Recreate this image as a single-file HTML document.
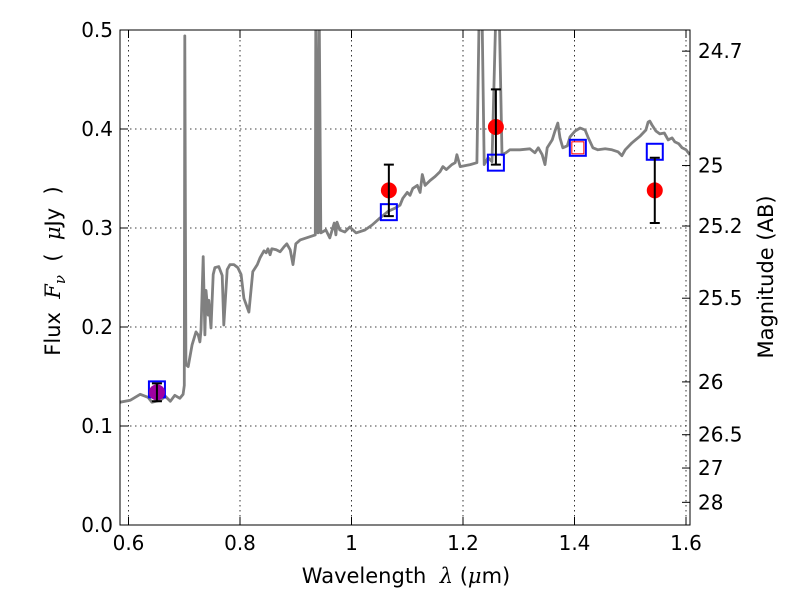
<!DOCTYPE html>
<html><head><meta charset="utf-8"><style>
body{margin:0;background:#fff;}
svg text{font-family:"DejaVu Sans","Liberation Sans",sans-serif;}
</style></head><body>
<svg id="chart" width="800" height="600" xmlns="http://www.w3.org/2000/svg">
<defs><clipPath id="clip"><rect x="120" y="30" width="570" height="495"/></clipPath></defs>
<rect x="0" y="0" width="800" height="600" fill="#fff"/>
<g id="grid"></g>
<g id="marks" clip-path="url(#clip)"></g>
<rect x="120" y="30" width="570" height="495" fill="none" stroke="#000" stroke-width="1"/>
<g id="axes"></g>
<text x="406" y="583" font-size="21" text-anchor="middle" xml:space="preserve">Wavelength  <tspan font-family="DejaVu Serif" font-style="italic">λ</tspan> (<tspan font-family="DejaVu Serif" font-style="italic">μ</tspan>m)</text>
<text transform="translate(60,271) rotate(-90)" font-size="21" text-anchor="middle" xml:space="preserve">Flux  <tspan font-family="DejaVu Serif" font-style="italic">F</tspan><tspan font-family="DejaVu Serif" font-style="italic" font-size="15" dy="5">ν</tspan><tspan dy="-5">  (  </tspan><tspan font-family="DejaVu Serif" font-style="italic">μ</tspan>Jy  )</text>
<text transform="translate(773,277) rotate(-90)" font-size="21" text-anchor="middle">Magnitude (AB)</text>
</svg>
<script>
const specWave=[0.585,0.603,0.621,0.635,0.642,0.657,0.666,0.675,0.683,0.692,0.698,0.700,0.701,0.703,0.707,0.714,0.721,0.725,0.728,0.730,0.734,0.737,0.739,0.743,0.744,0.748,0.752,0.755,0.762,0.768,0.771,0.777,0.782,0.789,0.796,0.802,0.807,0.816,0.823,0.831,0.836,0.843,0.847,0.850,0.854,0.857,0.865,0.872,0.879,0.884,0.890,0.895,0.900,0.908,0.935,0.936,0.940,0.942,0.945,0.954,0.961,0.969,0.972,0.974,0.979,0.988,0.997,1.008,1.024,1.037,1.051,1.066,1.078,1.087,1.092,1.100,1.105,1.110,1.118,1.123,1.127,1.132,1.141,1.150,1.159,1.164,1.170,1.180,1.186,1.189,1.195,1.213,1.225,1.229,1.234,1.238,1.245,1.252,1.259,1.265,1.270,1.277,1.284,1.302,1.320,1.329,1.335,1.342,1.347,1.351,1.360,1.365,1.370,1.374,1.379,1.387,1.392,1.401,1.410,1.419,1.424,1.433,1.442,1.455,1.467,1.478,1.485,1.491,1.503,1.518,1.528,1.532,1.535,1.539,1.546,1.553,1.561,1.568,1.575,1.580,1.587,1.593,1.600,1.607];
const specFlux=[0.124,0.126,0.132,0.129,0.124,0.126,0.130,0.125,0.131,0.128,0.132,0.141,0.494,0.162,0.160,0.182,0.195,0.192,0.185,0.197,0.271,0.192,0.237,0.212,0.227,0.199,0.253,0.260,0.261,0.252,0.202,0.258,0.263,0.263,0.260,0.253,0.229,0.215,0.256,0.263,0.270,0.277,0.275,0.279,0.273,0.279,0.278,0.276,0.281,0.284,0.278,0.263,0.284,0.288,0.293,0.52,0.295,0.52,0.295,0.298,0.290,0.305,0.293,0.306,0.298,0.296,0.301,0.295,0.298,0.303,0.310,0.317,0.320,0.323,0.330,0.336,0.333,0.340,0.343,0.336,0.354,0.343,0.348,0.352,0.357,0.362,0.359,0.364,0.366,0.374,0.362,0.364,0.366,0.52,0.52,0.364,0.371,0.367,0.52,0.52,0.374,0.376,0.379,0.379,0.380,0.376,0.381,0.374,0.364,0.381,0.389,0.398,0.406,0.391,0.381,0.383,0.392,0.398,0.401,0.399,0.392,0.381,0.379,0.380,0.379,0.377,0.373,0.379,0.386,0.393,0.399,0.407,0.408,0.404,0.398,0.395,0.396,0.389,0.391,0.387,0.385,0.381,0.379,0.374];
const photWave=[0.651,1.067,1.259,1.406,1.544];
const photFlux=[0.134,0.338,0.402,0.381,0.338];
const photErr=[0.009,0.026,0.038,0,0.033];
const modelFlux=[0.137,0.316,0.366,0.381,0.377];
const xTicks=[0.6,0.8,1.0,1.2,1.4,1.6];
const xTickLabels=["0.6","0.8","1","1.2","1.4","1.6"];
const yTicks=[0,0.1,0.2,0.3,0.4,0.5];
const yTickLabels=["0.0","0.1","0.2","0.3","0.4","0.5"];
const magTicks=[24.7,25,25.2,25.5,26,26.5,27,28];
const magTickLabels=["24.7","25","25.2","25.5","26","26.5","27","28"];

const X=v=>128.5+(v-0.6)*557.5;
const Y=v=>525-v*990;
const magToFlux=m=>Math.pow(10,(23.9-m)/2.5);
const NS="http://www.w3.org/2000/svg";
function mk(tag,attrs,parent){const e=document.createElementNS(NS,tag);for(const k in attrs)e.setAttribute(k,attrs[k]);parent.appendChild(e);return e;}
const grid=document.getElementById('grid'),marks=document.getElementById('marks'),axes=document.getElementById('axes');

xTicks.forEach((t,i)=>{
  const x=X(t);
  const g=mk('line',{x1:x,x2:x,y1:30,y2:525,stroke:'#000','stroke-dasharray':'1.5,3.5','stroke-width':0.8},grid);
  
  
  mk('line',{x1:x,x2:x,y1:525,y2:517,stroke:'#000'},axes);
  mk('line',{x1:x,x2:x,y1:30,y2:38,stroke:'#000'},axes);
  const tx=mk('text',{x:x,y:550,'font-size':20,'text-anchor':'middle'},axes);
  tx.textContent=xTickLabels[i];
  
  
});
yTicks.forEach((t,i)=>{
  const y=Y(t);
  const g=mk('line',{x1:120,x2:690,y1:y,y2:y,stroke:'#000','stroke-dasharray':'1.5,3.5','stroke-width':0.8},grid);
  
  
  mk('line',{x1:120,x2:128,y1:y,y2:y,stroke:'#000'},axes);
  const tx=mk('text',{x:113,y:y+7,'font-size':20,'text-anchor':'end'},axes);
  tx.textContent=yTickLabels[i];
  
  
});
magTicks.forEach((m,i)=>{
  const y=Y(magToFlux(m));
  mk('line',{x1:682,x2:690,y1:y,y2:y,stroke:'#000'},axes);
  const tx=mk('text',{x:698,y:y+7,'font-size':20},axes);
  tx.textContent=magTickLabels[i];
  
  
});

const pts=specWave.map((w,i)=>X(w).toFixed(1)+','+Y(specFlux[i]).toFixed(1)).join(' ');
const sp=mk('polyline',{points:pts,fill:'none',stroke:'#808080','stroke-width':2.8,'stroke-linejoin':'round'},marks);



photWave.forEach((w,i)=>{
  const x=X(w);
  const b=mk('rect',{x:x-8,y:Y(modelFlux[i])-8,width:16,height:16,fill:'none',stroke:'#0000ff','stroke-width':2},marks);
  
  
  if(i===3){
    const r=mk('rect',{x:x-6,y:Y(photFlux[i])-6,width:12,height:12,fill:'none',stroke:'#ff0000','stroke-width':1},marks);
    
    
    return;
  }
  const c=mk('circle',{cx:x,cy:Y(photFlux[i]),r:8,fill:i===0?'#a000a0':'#ff0000'},marks);
  
  
  const y1=Y(photFlux[i]+photErr[i]),y2=Y(photFlux[i]-photErr[i]);
  const e=mk('path',{d:`M${x},${y1}V${y2}M${x-5},${y1}H${x+5}M${x-5},${y2}H${x+5}`,stroke:'#000','stroke-width':2,fill:'none'},marks);
  
  
});
</script>
</body></html>
